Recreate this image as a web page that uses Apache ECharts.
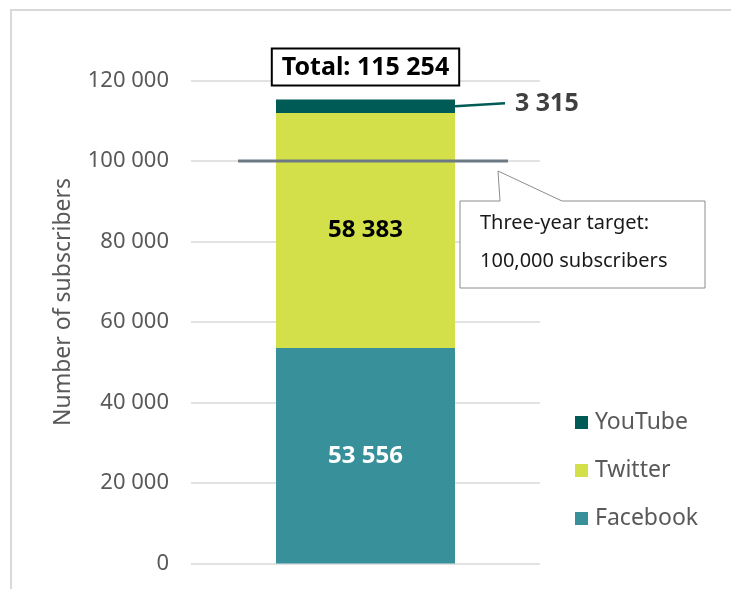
<!DOCTYPE html>
<html>
<head>
<meta charset="UTF-8">
<script src="https://cdn.jsdelivr.net/npm/echarts@6/dist/echarts.min.js"></script>
<title>Subscribers</title>
</head>
<body style="margin:0; background:#fff">
<div id="main" style="width:731px; height:589px"></div>
<script>
    // data
    var categories = ['Subscribers'];
    var facebook = [53556];
    var twitter = [58383];
    var youtube = [3315];
    var target = 100000;
    var yTicks = {min: 0, max: 120000, interval: 20000};

    var FONT = 'Noto Sans';
    function fmt(v) {
        return String(v).replace(/\B(?=(\d{3})+(?!\d))/g, ' ');
    }
    var total = facebook[0] + twitter[0] + youtube[0];

    var myChart = echarts.init(document.getElementById('main'));
    var option = {
        animation: false,
        textStyle: {fontFamily: FONT},
        grid: {left: 191, right: 191, top: 80.5, bottom: 25.5},
        legend: {
            data: ['YouTube', 'Twitter', 'Facebook'],
            orient: 'vertical',
            left: 570,
            top: 406,
            itemWidth: 13,
            itemHeight: 13,
            itemGap: 25,
            icon: 'rect',
            textStyle: {fontSize: 23, color: '#595959', fontFamily: FONT, padding: [0, 0, 0, 2]}
        },
        xAxis: {
            type: 'category',
            data: categories,
            axisLine: {show: false},
            axisTick: {show: false},
            axisLabel: {show: false}
        },
        yAxis: {
            type: 'value',
            min: yTicks.min,
            max: yTicks.max,
            interval: yTicks.interval,
            name: 'Number of subscribers',
            nameLocation: 'middle',
            nameGap: 116,
            nameTextStyle: {fontSize: 23, color: '#595959', fontFamily: FONT, padding: [0, 0, 0, 40]},
            axisLine: {show: false},
            axisTick: {show: false},
            axisLabel: {
                fontSize: 22, color: '#595959', margin: 22, fontFamily: FONT,
                formatter: fmt
            },
            splitLine: {lineStyle: {color: '#d9d9d9', width: 1.5}}
        },
        series: [
            {
                name: 'Facebook', type: 'bar', stack: 'a', barWidth: 179,
                data: facebook,
                itemStyle: {color: '#38919a'},
                label: {show: true, position: 'inside', color: '#ffffff', fontSize: 24, fontWeight: 'bold',
                    formatter: function (p) { return fmt(p.value); }}
            },
            {
                name: 'Twitter', type: 'bar', stack: 'a', barWidth: 179,
                data: twitter,
                itemStyle: {color: '#d4e04a'},
                label: {show: true, position: 'inside', color: '#000000', fontSize: 24, fontWeight: 'bold',
                    formatter: function (p) { return fmt(p.value); }}
            },
            {
                name: 'YouTube', type: 'bar', stack: 'a', barWidth: 179,
                data: youtube,
                itemStyle: {color: '#005a55'},
                label: {show: true, position: 'right', distance: 60, color: '#404040', fontSize: 25, fontWeight: 'bold',
                    offset: [0, -2],
                    formatter: function (p) { return fmt(p.value); }}
            },
            {
                name: 'Total', type: 'bar', stack: 'a', barWidth: 179,
                data: [0],
                itemStyle: {color: 'transparent'},
                label: {
                    show: true, position: 'top', distance: 15,
                    color: '#000000', fontSize: 25, fontWeight: 'bold',
                    backgroundColor: '#ffffff', borderColor: '#000000', borderWidth: 2,
                    padding: [6, 9, 4, 9],
                    formatter: function () { return 'Total: ' + fmt(total); }
                }
            }
        ]
    };
    myChart.setOption(option);

    // annotations positioned from the axis scale
    var yT = myChart.convertToPixel({yAxisIndex: 0}, target);
    var yYt = myChart.convertToPixel({yAxisIndex: 0}, facebook[0] + twitter[0] + youtube[0] / 2);
    myChart.setOption({
        graphic: [
            {type: 'rect', shape: {x: 11, y: 10, width: 760, height: 620},
                style: {fill: 'none', stroke: '#d9d9d9', lineWidth: 2}, silent: true},
            {type: 'line', z: 100, shape: {x1: 238, y1: yT, x2: 508, y2: yT},
                style: {stroke: '#6d7a84', lineWidth: 3}},
            {type: 'polyline', z: 100, shape: {points: [[455, yYt], [505, yYt - 3]]},
                style: {stroke: '#005a55', lineWidth: 2.5}},
            {type: 'polygon', z: 100,
                shape: {points: [[460, 201], [500, 201], [498, yT + 10], [562, 201], [705, 201], [705, 288], [460, 288]]},
                style: {fill: '#ffffff', stroke: '#8c8c8c', lineWidth: 1}},
            {type: 'text', z: 101, left: 480, top: 213,
                style: {text: 'Three-year target:', font: '20px "Noto Sans"', fill: '#1a1a1a'}},
            {type: 'text', z: 101, left: 480, top: 251,
                style: {text: '100,000 subscribers', font: '20px "Noto Sans"', fill: '#1a1a1a'}}
        ]
    });
</script>
</body>
</html>
